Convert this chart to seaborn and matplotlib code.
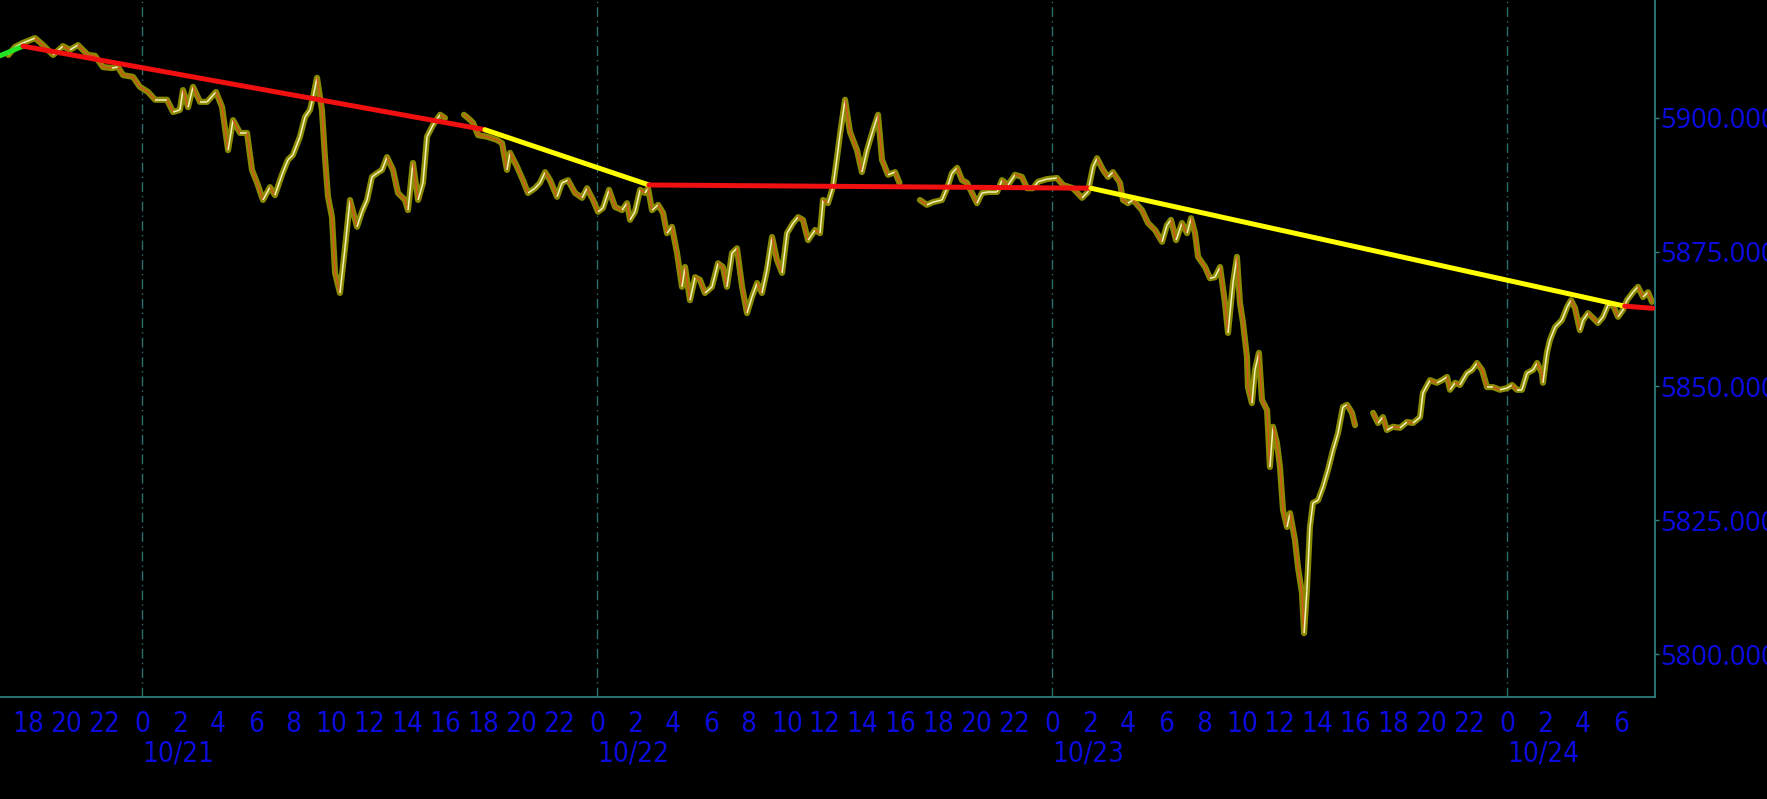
"""Futures intraday chart, 10/20 evening to 10/24 morning, with zigzag trend lines."""
import matplotlib
matplotlib.use("Agg")
import matplotlib.pyplot as plt
from matplotlib import font_manager
from matplotlib.collections import LineCollection
import pandas as pd
import seaborn as sns

# ----------------------------------------------------------------------------
# Data: hours since 10/21 00:00 and price, one pair of lists per session
# ----------------------------------------------------------------------------
sess1_h = [-7.05, -6.70, -6.28, -5.64, -5.22, -4.69, -4.17, -3.80, -3.38, -2.85, -2.48, -2.06,
           -1.58, -1.27, -1.00, -0.47, -0.11, 0.32, 0.69, 1.32, 1.64, 2.00, 2.16, 2.43, 2.69,
           3.06, 3.43, 3.90, 4.22, 4.54, 4.80, 5.17, 5.54, 5.80, 6.07, 6.38, 6.75, 7.01, 7.38,
           7.70, 7.96, 8.33, 8.60, 8.86, 9.02, 9.23, 9.49, 9.65, 9.81, 10.02, 10.18, 10.44,
           10.71, 10.97, 11.34, 11.60, 11.87, 12.13, 12.39, 12.66, 12.92, 13.24, 13.50, 13.87,
           14.03, 14.29, 14.56, 14.82, 15.03, 15.35, 15.72, 15.98]
sess1_p = [5911.75, 5913.25, 5914.0, 5914.9, 5913.6, 5911.75, 5913.4, 5912.7, 5913.6, 5911.75,
           5911.6, 5909.5, 5909.3, 5909.5, 5908.0, 5907.65, 5905.8, 5904.85, 5903.4, 5903.4,
           5901.1, 5901.5, 5905.2, 5902.0, 5905.8, 5903.0, 5903.0, 5904.85, 5902.05, 5894.0,
           5899.6, 5897.2, 5897.2, 5890.3, 5887.9, 5884.7, 5887.1, 5885.6, 5889.4, 5892.2,
           5893.1, 5896.5, 5900.2, 5901.5, 5903.9, 5907.5, 5901.5, 5892.7, 5885.3, 5881.5,
           5871.1, 5867.35, 5875.9, 5884.7, 5879.7, 5882.5, 5884.7, 5889.0, 5889.7, 5890.3,
           5892.7, 5890.3, 5886.0, 5884.7, 5882.8, 5891.6, 5884.7, 5887.9, 5896.5, 5898.7,
           5900.6, 5900.0]

sess2_h = [16.98, 17.19, 17.46, 17.72, 18.20, 18.72, 18.99, 19.25, 19.41, 19.78, 20.09, 20.36,
           20.73, 20.99, 21.26, 21.52, 21.89, 22.15, 22.47, 22.84, 23.21, 23.47, 23.79, 24.05,
           24.31, 24.63, 24.95, 25.32, 25.58, 25.74, 26.00, 26.27, 26.53, 26.69, 26.90, 27.22,
           27.48, 27.69, 27.95, 28.22, 28.48, 28.64, 28.90, 29.17, 29.43, 29.69, 30.06, 30.38,
           30.64, 30.85, 31.12, 31.38, 31.65, 31.91, 32.17, 32.44, 32.70, 32.96, 33.23, 33.49,
           33.76, 34.02, 34.34, 34.60, 34.86, 35.13, 35.50, 35.76, 35.92, 36.18, 36.44, 36.66,
           36.81, 37.08, 37.34, 37.71, 37.97, 38.24, 38.56, 38.82, 39.03, 39.35, 39.72, 39.95]
sess2_p = [5900.6, 5900.0, 5899.1, 5896.8, 5896.5, 5895.9, 5895.3, 5890.3, 5893.5, 5890.9,
           5888.4, 5886.0, 5886.9, 5887.9, 5889.9, 5888.4, 5885.3, 5887.9, 5888.4, 5886.0,
           5885.1, 5886.9, 5884.7, 5882.5, 5883.2, 5886.6, 5883.4, 5882.8, 5884.1, 5881.0,
           5882.5, 5886.6, 5886.0, 5886.9, 5882.8, 5883.8, 5882.3, 5878.5, 5879.7, 5874.8,
           5868.5, 5872.2, 5866.0, 5870.3, 5869.8, 5867.35, 5868.5, 5872.9, 5872.2, 5868.5,
           5874.8, 5875.7, 5868.5, 5863.6, 5866.6, 5869.2, 5867.35, 5871.6, 5877.8, 5873.5,
           5871.1, 5878.5, 5880.4, 5881.5, 5881.0, 5877.2, 5879.1, 5878.5, 5884.7, 5884.1,
           5887.1, 5892.7, 5896.8, 5903.4, 5897.4, 5894.0, 5889.9, 5894.0, 5897.8, 5900.6,
           5892.2, 5889.4, 5889.9, 5887.9]

sess3_h = [41.03, 41.40, 41.72, 42.19, 42.46, 42.72, 42.99, 43.25, 43.51, 43.78, 44.04, 44.30,
           44.62, 45.10, 45.36, 45.68, 46.04, 46.41, 46.68, 46.99, 47.26, 47.73, 48.26, 48.58,
           49.10, 49.58, 49.89, 50.16, 50.37, 50.69, 50.95, 51.21, 51.58, 51.74, 52.00, 52.27,
           52.74, 53.06, 53.43, 53.80, 54.06, 54.27, 54.54, 54.85, 55.12, 55.33, 55.54, 55.70,
           56.07, 56.33, 56.59, 56.86, 57.12, 57.28, 57.54, 57.75, 57.91, 58.07, 58.28, 58.33,
           58.54, 58.70, 58.91, 59.07, 59.34, 59.49, 59.65, 59.86, 60.02, 60.18, 60.39, 60.55,
           60.81, 60.97, 61.18, 61.29, 61.44, 61.60, 61.76, 62.03, 62.29, 62.55, 62.82, 63.08,
           63.34, 63.56, 63.82, 63.98]
sess3_p = [5884.7, 5883.8, 5884.3, 5884.7, 5886.9, 5889.7, 5890.7, 5888.4, 5887.9, 5886.0,
           5884.1, 5886.0, 5886.2, 5886.2, 5888.4, 5887.5, 5889.4, 5889.0, 5886.9, 5886.9,
           5888.1, 5888.6, 5888.8, 5887.5, 5886.9, 5885.1, 5886.2, 5890.9, 5892.5, 5890.3,
           5889.0, 5889.9, 5887.9, 5884.7, 5884.1, 5884.7, 5882.8, 5880.4, 5879.1, 5876.9,
           5880.0, 5881.0, 5877.2, 5880.4, 5878.5, 5881.3, 5878.5, 5874.1, 5872.2, 5870.1,
           5870.3, 5872.2, 5865.5, 5859.9, 5869.2, 5874.1, 5865.5, 5861.8, 5855.4, 5849.8,
           5846.8, 5853.0, 5856.2, 5847.4, 5845.5, 5834.9, 5842.4, 5839.4, 5834.9, 5826.9,
           5823.7, 5826.3, 5821.3, 5816.2, 5811.4, 5803.9, 5811.9, 5823.7, 5828.2, 5828.7,
           5831.2, 5834.3, 5838.1, 5841.2, 5846.1, 5846.5, 5845.0, 5842.7]

sess4_h = [64.93, 65.19, 65.45, 65.66, 65.98, 66.35, 66.72, 67.04, 67.41, 67.56, 67.93, 68.30,
           68.57, 68.83, 68.99, 69.25, 69.51, 69.88, 70.15, 70.41, 70.68, 70.94, 71.26, 71.62,
           71.99, 72.26, 72.52, 72.78, 73.05, 73.37, 73.58, 73.84, 73.89, 74.10, 74.26, 74.53,
           74.89, 75.16, 75.37, 75.58, 75.84, 76.00, 76.27, 76.53, 76.79, 77.06, 77.32, 77.59,
           77.85, 78.11, 78.32, 78.64, 78.90, 79.17, 79.43, 79.64]
sess4_p = [5845.0, 5843.1, 5844.2, 5841.8, 5842.4, 5842.2, 5843.3, 5843.1, 5844.2, 5848.7,
           5851.1, 5850.6, 5851.1, 5851.7, 5849.3, 5850.6, 5850.2, 5852.4, 5853.0, 5854.3,
           5853.0, 5849.8, 5849.8, 5849.3, 5849.6, 5850.2, 5849.3, 5849.3, 5852.4, 5853.0,
           5854.3, 5852.4, 5850.6, 5856.2, 5858.6, 5861.0, 5862.3, 5864.7, 5866.0, 5864.55,
           5860.4, 5862.3, 5863.6, 5862.7, 5861.75, 5862.9, 5865.1, 5865.1, 5862.9, 5864.2,
           5866.0, 5867.5, 5868.5, 5866.6, 5867.5, 5865.7]

# zigzag pivots (hours, price) and colour of each leg
zigzag_h = [-7.49, -6.28, 18.09, 26.74, 50.05, 78.2, 79.7]
zigzag_p = [5911.6, 5913.4, 5897.8, 5887.5, 5886.9, 5864.9, 5864.5]
zigzag_colors = ['#22e622', '#f01010', '#ffff00', '#f01010', '#ffff00', '#f01010']

hour_ticks = list(range(-6, 79, 2))
minor_ticks = list(range(-7, 80))
date_ticks = [0, 24, 48, 72]
date_labels = ['10/21', '10/22', '10/23', '10/24']
price_ticks = [5800, 5825, 5850, 5875, 5900]

# ----------------------------------------------------------------------------
teal = '#2f8585'
blue = '#0b0bdc'
olive = '#8a8a00'

sns.set_style("dark", {"axes.facecolor": "black", "figure.facecolor": "black"})


# ----------------------------------------------------------------------------
def narrow_font(size):
    """Find a condensed sans face if one is installed, else a plain narrow-ish one."""
    for f in font_manager.fontManager.ttflist:
        base = f.fname.split('/')[-1]
        if base in ('LiberationSansNarrow-Regular.ttf', 'DejaVuSansCondensed.ttf',
                    'NotoSans-Condensed.ttf', 'OpenSans_Condensed-Regular.ttf'):
            return font_manager.FontProperties(fname=f.fname, size=size)
    for f in font_manager.fontManager.ttflist:
        if f.stretch in ('condensed', 'semi-condensed') and f.style == 'normal' \
                and f.weight in (400, 'normal', 'regular'):
            return font_manager.FontProperties(fname=f.fname, size=size)
    return font_manager.FontProperties(family=['Liberation Sans', 'DejaVu Sans'],
                                       size=size * 0.85)


xfont = narrow_font(20)

sessions = [(sess1_h, sess1_p), (sess2_h, sess2_p), (sess3_h, sess3_p), (sess4_h, sess4_p)]
frames = []
for i, (hh, pp) in enumerate(sessions):
    frames.append(pd.DataFrame({'h': hh, 'p': pp, 'session': i}))
df = pd.concat(frames, ignore_index=True)

fig = plt.figure(figsize=(17.67, 7.99), dpi=100, facecolor='black')
ax = fig.add_axes([0, 1 - 697 / 799, 1655 / 1767, 697 / 799])
ax.set_facecolor('black')

# midnight separators
for d in date_ticks:
    ax.axvline(d, color='#2a6e6e', lw=1, ls=(0, (7, 3, 1, 3)), zorder=0)

# price "candles": olive band with thin up/down coloured core
sns.lineplot(data=df, x='h', y='p', units='session', estimator=None, sort=False,
             color=olive, lw=4.4, ax=ax, zorder=2)
segs, cols = [], []
for hh, pp in sessions:
    for j in range(len(hh) - 1):
        segs.append([(hh[j], pp[j]), (hh[j + 1], pp[j + 1])])
        cols.append('#f4f0b8' if pp[j + 1] >= pp[j] else '#d2561a')
ax.add_collection(LineCollection(segs, colors=cols, lw=1.1, zorder=3))

# zigzag legs
rows = []
for i in range(len(zigzag_h) - 1):
    rows.append({'seg': 'leg%d' % i, 'h': zigzag_h[i], 'p': zigzag_p[i]})
    rows.append({'seg': 'leg%d' % i, 'h': zigzag_h[i + 1], 'p': zigzag_p[i + 1]})
zz = pd.DataFrame(rows)
sns.lineplot(data=zz, x='h', y='p', hue='seg', palette=zigzag_colors, estimator=None,
             sort=False, lw=3.6, legend=False, ax=ax, zorder=4)

# axes
ax.set_xlim(-7.49, 79.80)
ax.set_ylim(5792.0, 5922.0)
ax.set_xlabel('')
ax.set_ylabel('')
ax.grid(False)
for s in ['top', 'left']:
    ax.spines[s].set_visible(False)
for s in ['right', 'bottom']:
    ax.spines[s].set_visible(True)
    ax.spines[s].set_color(teal)
    ax.spines[s].set_linewidth(1.2)

ax.yaxis.tick_right()
ax.set_yticks(price_ticks)
ax.set_yticklabels(['%.3f' % v for v in price_ticks], family=['Noto Sans', 'DejaVu Sans'],
                   fontsize=19.5, color=blue)
ax.tick_params(axis='y', colors=teal, labelcolor=blue, length=3, width=1, direction='out', pad=0.5)

ax.set_xticks(hour_ticks)
ax.set_xticks(minor_ticks, minor=True)
ax.set_xticklabels([str(h % 24) for h in hour_ticks], fontproperties=xfont, color=blue)
ax.tick_params(axis='x', which='both', colors=teal, labelcolor=blue, length=4, width=1,
               direction='out', pad=5)

for d, lab in zip(date_ticks, date_labels):
    ax.annotate(lab, xy=(d, 0), xycoords=ax.get_xaxis_transform(), xytext=(0, -41),
                textcoords='offset points', ha='left', va='center', color=blue,
                fontproperties=xfont)

fig.savefig('out.png', dpi=100, facecolor='black')
